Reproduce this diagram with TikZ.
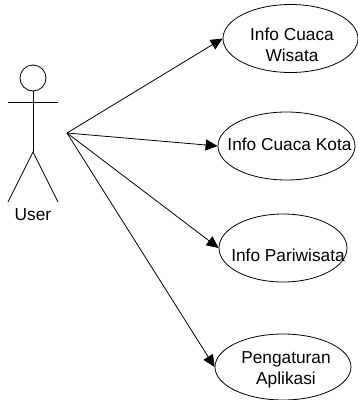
\documentclass[tikz,border=0pt]{standalone}
\usepackage{fontspec}
\setmainfont{Liberation Sans}
\usetikzlibrary{shapes.geometric,arrows.meta}
\newcommand{\casetext}[3]{\hspace*{#1}\raisebox{#2}[0pt][0pt]{\begin{tabular}{@{}c@{}}#3\end{tabular}}}
\tikzset{
  usecase/.style={draw=black,ellipse,line width=0.8pt,inner xsep=-70pt,inner ysep=0pt,font=\fontsize{17.3}{21}\selectfont},
  limb/.style={draw=black,line width=0.8pt},
  link/.style={draw=black,line width=0.8pt,-{Triangle[length=12pt,width=11pt]}}
}
\begin{document}
\begin{tikzpicture}[x=1pt,y=-1pt]
\useasboundingbox (0,0) rectangle (358,400);
\clip (0,0) rectangle (358,400);
\node[usecase,minimum width=135pt,minimum height=68pt] (wisata) at (290.5,38.5) {\casetext{3pt}{-12.3pt}{Info Cuaca\\Wisata}};
\node[usecase,minimum width=137pt,minimum height=68pt] (kota) at (286.5,146) {\casetext{6pt}{-4.3pt}{Info Cuaca Kota}};
\node[usecase,minimum width=128pt,minimum height=68pt] (pari) at (283,248) {\casetext{10pt}{-13.8pt}{Info Pariwisata}};
\node[usecase,minimum width=136pt,minimum height=66pt] (atur) at (283,367) {\casetext{6pt}{-7.3pt}{Pengaturan\\Aplikasi}};
\node[draw=black,circle,line width=0.8pt,minimum size=26pt,inner sep=0pt] (head) at (33,78) {};
\coordinate (armL) at (8,102.7);
\coordinate (armR) at (58,102.7);
\coordinate (hip) at (33,152);
\coordinate (footL) at (8,202);
\coordinate (footR) at (58,202);
\coordinate (hub) at (67,133);
\draw[limb] (head.south) -- (hip);
\draw[limb] (armL) -- (armR);
\draw[limb] (footL) -- (hip) -- (footR);
\node[font=\fontsize{17.3}{20}\selectfont] (user) at (33,214.5) {User};
\draw[link] (hub) -- (wisata.west);
\draw[link] (hub) -- (kota.west);
\draw[link] (hub) -- (pari.west);
\draw[link] (hub) -- (atur.west);
\end{tikzpicture}
\end{document}
